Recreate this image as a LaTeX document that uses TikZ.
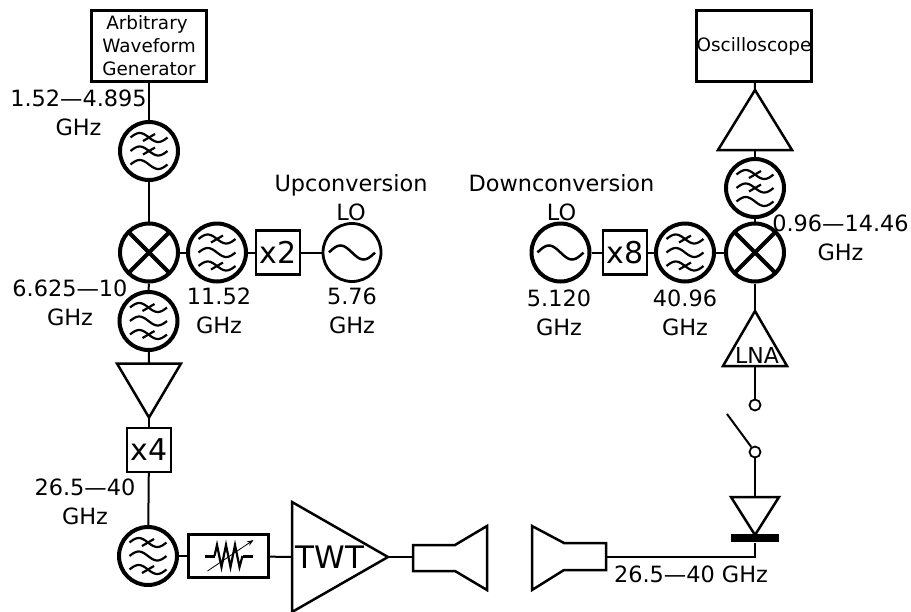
\documentclass[tikz,border=0pt]{standalone}
\usepackage{fontspec}
\setmainfont{DejaVu Sans}
\usetikzlibrary{shapes.geometric, arrows.meta}

\begin{document}
\begin{tikzpicture}[x=1pt, y=-1pt, >=Stealth,
		line width=2pt,
		lbl/.style={align=center, inner sep=0pt, font=\fontsize{22.4}{28.8}\selectfont},
		blk/.style={draw, minimum size=44pt, inner sep=0pt, line width=2.2pt, font=\fontsize{30}{30}\selectfont},
		instr/.style={draw, minimum width=115pt, minimum height=71pt, inner sep=0pt, align=center, line width=2.2pt, font=\fontsize{18.4}{23}\selectfont},
		ring/.style={draw, circle, minimum size=58pt, inner sep=0pt, line width=4pt},
		filt/.style={ring, path picture={
			\begin{scope}[shift={(path picture bounding box.center)}, line width=2.2pt]
				\foreach \w in {-13.5,0,13.5} \draw plot[smooth, domain=-18.5:18.5, samples=25] (\x, {\w+4.5*sin(9.7*\x)});
				\foreach \w in {#1} \draw (-6,\w+3.5) -- (6,\w-3.5);
			\end{scope}}},
		mixer/.style={ring, path picture={
			\draw[line width=4pt] (path picture bounding box.north west) -- (path picture bounding box.south east);
			\draw[line width=4pt] (path picture bounding box.north east) -- (path picture bounding box.south west);}},
		osc/.style={draw, circle, minimum size=58pt, inner sep=0pt, line width=#1, path picture={
			\draw[line width=2.5pt, shift={(path picture bounding box.center)}] plot[smooth, domain=-23:23, samples=25] (\x, {7*sin(7.8*\x)});}},
		tri/.style={draw, isosceles triangle, isosceles triangle stretches, inner sep=0pt, outer sep=0pt, line width=2.5pt},
		term/.style={draw, circle, minimum size=11pt, inner sep=0pt, line width=1.8pt}]
	\useasboundingbox (0,0) rectangle (911,611);
	% upconversion chain
	\node[instr] (awg) at (149,46) {Arbitrary\hspace*{4pt}\\Waveform\hspace*{4pt}\\Generator};
	\node[filt={-13.5,0}] (fif) at (149,151) {};
	\node[mixer] (mixu) at (149,252.5) {};
	\node[filt={-13.5,13.5}] (flou) at (217,252.5) {};
	\node[blk] (x2) at (278,252.5) {x2};
	\node[osc=2.8pt] (lou) at (352,252.5) {};
	\node[filt={-13.5,13.5}] (frfu) at (148.5,321) {};
	\node[tri, shape border rotate=-90, minimum width=64pt, minimum height=54pt, anchor=apex] (ampu) at (149,417.5) {};
	\node[blk] (x4) at (149,450) {x4};
	\node[filt={-13.5,13.5}] (fmm) at (148,556) {};
	\node[draw, minimum width=80pt, minimum height=43pt, inner sep=0pt, line width=2.2pt] (att) at (228.5,556) {};
	\node[tri, minimum width=110pt, minimum height=96pt, anchor=apex] (twt) at (388,557) {};
	\coordinate (hornt) at (413,557);
	% downconversion chain
	\coordinate (hornr) at (606,557);
	\node[fill, minimum width=48pt, minimum height=8pt, inner sep=0pt] (dbar) at (755,538) {};
	\node[tri, shape border rotate=-90, minimum width=48pt, minimum height=38pt, anchor=apex] (det) at (755,535) {};
	\node[term] (swa) at (755,452) {};
	\node[term] (swb) at (755,405) {};
	\coordinate (swend) at (727,414);
	\node[tri, shape border rotate=90, minimum width=64pt, minimum height=55pt, anchor=apex] (lna) at (755,311) {};
	\node[mixer] (mixd) at (755,252.5) {};
	\node[filt={-13.5,13.5}] (flod) at (685,252.5) {};
	\node[blk] (x8) at (625,252.5) {x8};
	\node[osc=4pt] (lod) at (560.5,252.5) {};
	\node[filt={-13.5,0}] (fif2) at (755,188) {};
	\node[tri, shape border rotate=90, minimum width=74pt, minimum height=60pt, anchor=apex] (ampd) at (755,90) {};
	\node[instr] (scope) at (754,46) {Oscilloscope};
	% connections
	\draw (awg) -- (fif);
	\draw (fif) -- (mixu);
	\draw (mixu) -- (flou);
	\draw (flou) -- (x2);
	\draw (x2) -- (lou);
	\draw (mixu) -- (frfu);
	\draw (frfu) -- (ampu.lower side);
	\draw (ampu.apex) -- (x4);
	\draw (x4) -- (fmm);
	\draw (fmm) -- (att);
	\draw (att) -- (twt.lower side);
	\draw (twt.apex) -- (hornt);
	\draw (hornr) -| (dbar);
	\draw (det.lower side) -- (swa);
	\draw (swa) -- (swend);
	\draw (swb) -- (lna.lower side);
	\draw (lna.apex) -- (mixd);
	\draw (mixd) -- (flod);
	\draw (flod) -- (x8);
	\draw (x8) -- (lod);
	\draw (mixd) -- (fif2);
	\draw (fif2) -- (ampd.lower side);
	\draw (ampd.apex) -- (scope);
	% horns
	\draw[line width=2.5pt, line join=miter] (hornt) -- (413,571) -- (455,571) -- (487,590) -- (487,526) -- (455,545) -- (413,545) -- cycle;
	\draw[line width=2.5pt, line join=miter] (hornr) -- (606,570) -- (564,570) -- (532,590) -- (532,526) -- (564,543) -- (606,543) -- cycle;
	% attenuator symbol
	\draw[line width=3pt] (att.center) ++(-24,0) -- ++(10,0);
	\draw[line width=3pt] (att.center) ++(14,0) -- ++(10,0);
	\draw[line width=2.2pt] (att.center) ++(-14,0) -- ++(2.5,-11) -- ++(4.5,22) -- ++(4.5,-22) -- ++(4.5,22) -- ++(4.5,-22) -- ++(4.5,22) -- ++(3,-11);
	\draw[->, line width=0.8pt] (att.center) ++(-21,15) -- ++(46,-31);
	% labels
	\node[lbl] (tif) at (78.5,112.5) {1.52—4.895\\GHz};
	\node[lbl] (tup) at (351,197.5) {Upconversion\\LO};
	\node[lbl] (tlou) at (352,311) {5.76\\GHz};
	\node[lbl] (tflou) at (219,311) {11.52\\GHz};
	\node[lbl] (trf) at (70,303) {6.625—10\\GHz};
	\node[lbl] (tmm) at (85,502) {26.5—40\\GHz};
	\node[lbl] (tdown) at (561.5,197.5) {Downconversion\\LO};
	\node[lbl] (tlod) at (559,312.5) {5.120\\GHz};
	\node[lbl] (tflod) at (685,312.5) {40.96\\GHz};
	\node[lbl] (tif2) at (840.5,237.5) {0.96—14.46\\GHz};
	\node[lbl] (tmm2) at (691,574) {26.5—40 GHz};
	\node[inner sep=0pt, font=\fontsize{31}{31}\selectfont] (ttwt) at (330,557) {TWT};
	\node[inner sep=0pt, font=\fontsize{22}{22}\selectfont] (tlna) at (757,355) {LNA};
\end{tikzpicture}
\end{document}
